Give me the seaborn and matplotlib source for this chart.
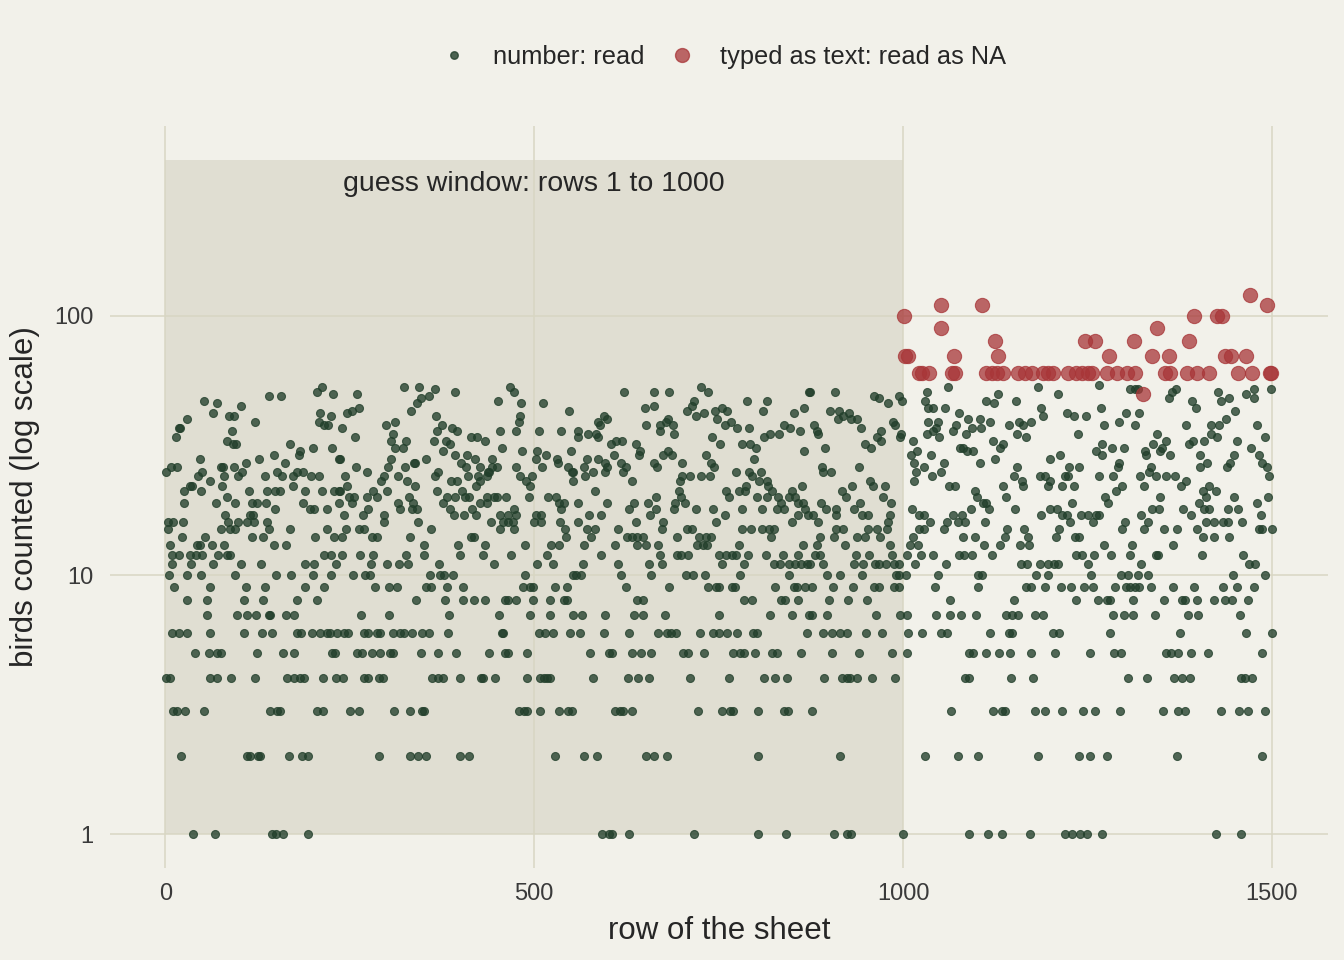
import matplotlib
matplotlib.use("Agg")
import matplotlib.pyplot as plt
import seaborn as sns
import pandas as pd
from matplotlib.patches import Rectangle
from matplotlib.lines import Line2D

# ---------------- data ----------------
# rows whose count is a small integer (1..8)
rows_count_1 = [38, 68, 145, 150, 160, 193, 592, 601, 605, 628, 717, 803, 841, 906, 924, 930, 1000,
                1089, 1115, 1134, 1172, 1219, 1229, 1240, 1249, 1269, 1424, 1458]
rows_count_2 = [21, 111, 115, 125, 129, 167, 185, 193, 289, 331, 343, 354, 400, 412, 528, 567, 585,
                652, 662, 680, 804, 915, 1030, 1075, 1102, 1183, 1238, 1253, 1276, 1371, 1487]
rows_count_3 = [11, 16, 27, 52, 142, 151, 156, 205, 214, 251, 263, 310, 332, 348, 351, 479, 486, 490,
                508, 533, 546, 551, 609, 616, 621, 633, 722, 755, 766, 770, 803, 838, 844, 877, 1065,
                1122, 1134, 1138, 1179, 1192, 1216, 1244, 1260, 1294, 1352, 1373, 1382, 1431, 1455,
                1468, 1491]
rows_count_4 = [1, 7, 60, 70, 89, 121, 165, 174, 183, 188, 214, 232, 241, 270, 275, 289, 295, 361, 370,
                377, 399, 428, 431, 447, 490, 508, 513, 517, 522, 580, 627, 641, 655, 711, 764, 811,
                827, 842, 893, 917, 924, 928, 938, 958, 989, 1084, 1089, 1146, 1176, 1305, 1330, 1367,
                1378, 1389, 1458, 1463, 1473]
rows_count_5 = [40, 59, 70, 75, 124, 159, 175, 226, 230, 260, 267, 280, 291, 304, 309, 346, 370, 394,
                439, 461, 465, 490, 576, 601, 605, 633, 645, 659, 702, 709, 730, 770, 779, 784, 799,
                822, 829, 862, 903, 940, 985, 1005, 1089, 1095, 1112, 1130, 1145, 1174, 1206, 1253,
                1286, 1295, 1357, 1363, 1373, 1390, 1413, 1487]
rows_count_6 = [9, 18, 29, 61, 106, 131, 145, 178, 184, 199, 210, 219, 223, 233, 242, 248, 270, 275,
                287, 291, 308, 318, 323, 334, 348, 358, 383, 456, 458, 506, 515, 525, 549, 562, 594,
                629, 668, 680, 686, 692, 725, 742, 750, 762, 775, 796, 802, 870, 892, 903, 914, 924,
                950, 972, 1006, 1025, 1052, 1059, 1118, 1143, 1147, 1203, 1211, 1280, 1375, 1465, 1500]
rows_count_7 = [57, 97, 111, 123, 140, 142, 163, 174, 265, 303, 385, 452, 495, 521, 553, 565, 596,
                635, 647, 677, 751, 819, 849, 873, 877, 897, 963, 996, 1005, 1045, 1064, 1079, 1099,
                1140, 1147, 1156, 1179, 1190, 1284, 1300, 1311, 1341, 1386, 1400, 1457]
rows_count_8 = [29, 56, 106, 133, 178, 205, 340, 379, 404, 418, 434, 461, 465, 476, 499, 522, 540,
                544, 639, 648, 784, 795, 835, 840, 858, 899, 925, 951, 1063, 1151, 1235, 1264, 1276,
                1281, 1312, 1353, 1378, 1382, 1399, 1422, 1436, 1446, 1467]

# (row, count) pairs for the larger counts, by stretch of the sheet
upper_rows_1_236 = [
    (212, 53), (206, 51), (227, 50), (52, 47), (70, 46), (103, 45), (141, 49), (157, 49),
    (65, 42), (86, 41), (93, 41), (30, 40), (18, 37), (20, 37), (14, 34), (122, 39), (90, 36),
    (84, 33), (92, 32), (96, 32), (210, 42), (224, 41), (208, 39), (215, 38), (221, 38), (169, 32),
    (182, 30), (181, 29), (200, 31), (226, 31), (235, 28), (47, 28), (1, 25), (8, 26), (16, 26),
    (50, 25), (60, 23), (33, 22), (36, 22), (25, 21), (48, 21), (45, 24), (26, 19), (75, 26),
    (78, 26), (93, 26), (79, 24), (99, 24), (104, 25), (110, 27), (127, 28), (147, 29), (162, 27),
    (77, 22), (83, 20), (69, 19), (95, 19), (113, 21), (135, 24), (151, 25), (158, 24), (173, 24),
    (178, 25), (187, 25), (197, 24), (208, 24), (173, 22), (138, 21), (149, 21), (155, 21),
    (117, 19), (124, 19), (136, 19), (190, 21), (212, 21), (228, 21), (235, 21), (187, 19),
    (196, 18), (201, 18), (219, 18), (236, 19), (149, 18), (81, 17), (115, 17), (119, 17),
    (85, 16), (99, 16), (111, 16), (120, 16), (138, 16), (3, 16), (11, 16), (24, 16), (3, 15),
    (75, 15), (88, 15), (95, 15), (140, 15), (169, 15), (219, 15), (23, 14), (54, 14), (117, 14),
    (133, 14), (203, 14), (229, 14), (6, 13), (43, 13), (47, 13), (63, 13), (79, 13), (148, 13),
    (164, 13), (9, 12), (18, 12), (33, 12), (41, 12), (50, 12), (72, 12), (83, 12), (88, 12),
    (215, 12), (224, 12), (9, 11), (35, 11), (64, 11), (103, 11), (130, 11), (190, 11), (202, 11),
    (232, 11), (5, 10), (30, 10), (48, 10), (95, 10), (150, 10), (170, 10), (200, 10), (225, 10),
    (12, 9), (60, 9), (110, 9), (135, 9), (190, 9), (215, 9)]

upper_rows_237_555 = [
    (260, 50), (323, 53), (344, 53), (365, 52), (392, 51), (467, 53), (473, 51), (451, 47),
    (482, 46), (512, 46), (547, 43), (246, 42), (253, 43), (263, 44), (333, 43), (341, 46),
    (347, 48), (357, 49), (367, 41), (481, 41), (479, 39), (239, 37), (299, 38), (312, 39),
    (375, 38), (368, 36), (388, 37), (396, 36), (453, 36), (476, 36), (507, 36), (537, 36),
    (257, 34), (309, 35), (306, 33), (326, 33), (312, 31), (322, 31), (364, 33), (381, 33),
    (386, 32), (415, 34), (422, 34), (434, 33), (457, 31), (483, 30), (504, 30), (503, 28),
    (516, 29), (550, 30), (376, 30), (393, 29), (409, 29), (420, 28), (443, 28), (237, 28),
    (306, 28), (353, 28), (338, 27), (401, 27), (407, 26), (426, 26), (449, 26), (443, 26),
    (439, 25), (476, 26), (531, 28), (532, 27), (511, 26), (546, 26), (553, 25), (259, 26),
    (273, 25), (302, 26), (325, 26), (337, 27), (244, 24), (296, 24), (316, 24), (293, 23),
    (327, 23), (339, 22), (369, 25), (366, 24), (387, 23), (396, 23), (410, 24), (424, 24),
    (426, 23), (421, 22), (436, 24), (438, 25), (481, 24), (489, 23), (497, 24), (495, 22),
    (551, 25), (552, 23), (246, 22), (237, 21), (249, 20), (256, 20), (273, 20), (281, 21),
    (287, 20), (300, 21), (330, 20), (368, 21), (382, 20), (392, 20), (402, 21), (406, 20),
    (412, 20), (436, 20), (446, 20), (449, 20), (462, 20), (493, 20), (519, 20), (530, 20),
    (534, 19), (541, 19), (253, 19), (315, 19), (336, 19), (376, 19), (386, 18), (427, 19),
    (436, 19), (537, 18), (318, 18), (334, 18), (341, 18), (275, 18), (416, 18), (472, 18),
    (242, 17), (268, 17), (296, 17), (391, 17), (405, 17), (421, 17), (454, 17), (464, 17),
    (475, 17), (502, 17), (509, 17), (297, 16), (342, 16), (441, 16), (458, 16), (464, 16),
    (471, 16), (500, 16), (509, 16), (535, 16), (245, 15), (262, 15), (269, 15), (360, 15),
    (454, 15), (472, 15), (542, 15), (239, 14), (280, 14), (287, 14), (331, 14), (415, 14),
    (419, 14), (543, 14), (350, 13), (397, 13), (433, 13), (487, 13), (523, 13), (534, 13),
    (239, 12), (264, 12), (282, 12), (326, 12), (351, 12), (400, 12), (430, 12), (469, 12),
    (517, 12), (279, 11), (300, 11), (317, 11), (329, 11), (371, 11), (445, 11), (504, 11),
    (526, 11), (255, 10), (271, 10), (278, 10), (359, 10), (373, 10), (378, 10), (390, 10),
    (488, 10), (552, 10), (284, 9), (303, 9), (314, 9), (354, 9), (360, 9), (382, 9), (403, 9),
    (485, 9), (495, 9), (498, 9), (528, 9), (544, 9)]

upper_rows_556_873 = [
    (622, 51), (663, 51), (683, 51), (726, 53), (736, 51), (789, 47), (815, 47), (872, 51),
    (650, 44), (663, 45), (707, 43), (714, 45), (717, 47), (719, 41), (730, 42), (745, 43),
    (754, 44), (762, 43), (748, 40), (810, 43), (852, 42), (866, 44), (586, 39), (595, 41),
    (599, 40), (589, 38), (651, 38), (671, 38), (678, 39), (682, 40), (688, 38), (690, 35),
    (671, 36), (759, 38), (767, 39), (775, 37), (791, 37), (839, 38), (847, 37), (860, 36),
    (560, 36), (560, 34), (573, 35), (584, 35), (587, 34), (604, 32), (611, 33), (619, 33),
    (638, 32), (644, 30), (642, 29), (741, 34), (752, 32), (782, 32), (793, 32), (800, 31),
    (812, 34), (820, 35), (832, 35), (866, 30), (571, 28), (587, 28), (568, 26), (569, 24),
    (580, 25), (608, 29), (596, 27), (599, 26), (618, 27), (624, 26), (621, 25), (596, 25),
    (632, 23), (662, 27), (667, 26), (674, 29), (681, 30), (687, 29), (700, 27), (733, 29),
    (739, 27), (744, 26), (700, 24), (711, 24), (697, 23), (726, 24), (738, 24), (773, 25),
    (791, 25), (795, 24), (798, 28), (807, 25), (805, 23), (815, 23), (817, 22), (863, 22),
    (787, 22), (786, 21), (777, 21), (760, 21), (764, 20), (823, 21), (831, 20), (850, 21),
    (854, 20), (845, 20), (815, 20), (802, 20), (559, 19), (582, 21), (599, 19), (665, 20),
    (635, 19), (654, 19), (628, 18), (696, 21), (699, 20), (691, 19), (690, 18), (704, 19),
    (665, 18), (657, 17), (720, 18), (742, 18), (781, 18), (809, 18), (829, 18), (839, 18),
    (834, 19), (857, 19), (865, 19), (867, 18), (871, 17), (758, 17), (574, 17), (590, 17),
    (559, 16), (638, 16), (675, 16), (746, 16), (849, 16), (858, 17), (571, 15), (583, 15),
    (577, 14), (613, 15), (673, 15), (707, 15), (714, 15), (782, 15), (794, 15), (809, 15),
    (818, 15), (825, 15), (821, 14), (626, 14), (632, 14), (639, 14), (648, 14), (694, 14),
    (724, 14), (733, 14), (739, 14), (568, 13), (610, 13), (640, 13), (652, 13), (668, 13),
    (721, 13), (729, 13), (734, 13), (777, 13), (865, 13), (591, 12), (670, 12), (693, 12),
    (699, 12), (709, 12), (750, 12), (760, 12), (768, 12), (774, 12), (790, 12), (814, 12),
    (837, 12), (857, 12), (566, 11), (614, 11), (656, 11), (673, 11), (754, 11), (785, 11),
    (825, 11), (833, 11), (846, 11), (854, 11), (862, 11), (870, 11), (556, 10), (564, 10),
    (617, 10), (659, 10), (706, 10), (715, 10), (732, 10), (779, 10), (846, 10), (625, 9),
    (683, 9), (736, 9), (747, 9), (750, 9), (768, 9), (772, 9), (827, 9), (852, 9), (856, 9),
    (867, 9)]

upper_rows_874_1191 = [
    (908, 51), (874, 51), (961, 49), (967, 48), (979, 46), (994, 49), (999, 47), (901, 43),
    (913, 43), (919, 41), (912, 40), (927, 42), (929, 40), (937, 40), (943, 37), (879, 38),
    (884, 36), (885, 35), (894, 31), (986, 39), (989, 38), (970, 36), (964, 34), (970, 33),
    (996, 34), (997, 35), (949, 32), (957, 31), (1032, 51), (1030, 47), (1034, 44), (1041, 44),
    (1061, 53), (1057, 44), (1076, 42), (1088, 40), (1104, 40), (1105, 37), (1094, 37),
    (1113, 47), (1123, 46), (1128, 50), (1153, 47), (1118, 39), (1144, 38), (1157, 39),
    (1162, 38), (1174, 39), (1183, 53), (1187, 44), (1189, 41), (1034, 39), (1047, 39),
    (1045, 37), (1041, 36), (1032, 35), (1049, 34), (1072, 38), (1068, 36), (1085, 35),
    (1154, 35), (1166, 34), (1013, 33), (1019, 30), (1011, 29), (1038, 29), (1015, 27),
    (1029, 26), (1018, 25), (1015, 23), (1055, 27), (1051, 25), (1039, 24), (1077, 31),
    (1081, 31), (1087, 30), (1095, 30), (1122, 33), (1132, 31), (1136, 32), (1125, 28),
    (1104, 27), (1154, 26), (1150, 24), (1161, 23), (1162, 22), (1185, 24), (1135, 22),
    (1139, 20), (890, 26), (891, 25), (902, 25), (940, 26), (955, 23), (959, 22), (975, 22),
    (931, 22), (917, 21), (922, 20), (973, 20), (984, 19), (889, 19), (896, 18), (909, 18),
    (909, 17), (942, 19), (934, 18), (944, 17), (952, 17), (878, 17), (885, 16), (982, 17),
    (980, 16), (978, 15), (1062, 22), (1071, 22), (1097, 21), (1100, 20), (1109, 19),
    (1112, 19), (1117, 18), (1092, 18), (1152, 18), (1012, 18), (1021, 17), (1028, 17),
    (1037, 16), (1067, 17), (1080, 17), (1060, 16), (1074, 16), (1084, 16), (1056, 15),
    (1111, 16), (1187, 17), (909, 15), (919, 15), (953, 15), (964, 15), (1021, 15), (1028, 15),
    (1141, 15), (1164, 15), (888, 14), (906, 14), (938, 14), (949, 14), (969, 14), (1013, 14),
    (1081, 14), (1098, 14), (1138, 14), (1169, 14), (883, 13), (921, 13), (982, 13),
    (1009, 13), (1020, 13), (1110, 13), (1132, 13), (1159, 13), (1171, 13), (881, 12),
    (887, 12), (936, 12), (954, 12), (985, 12), (1005, 12), (1024, 12), (1040, 12), (1076, 12),
    (1082, 12), (1093, 12), (1121, 12), (874, 11), (892, 11), (934, 11), (946, 11), (962, 11),
    (968, 11), (977, 11), (988, 11), (994, 11), (1016, 11), (1058, 11), (1160, 11), (1168, 11),
    (1186, 11), (897, 10), (915, 10), (945, 10), (991, 10), (995, 10), (1004, 10), (1048, 10),
    (1102, 10), (1107, 10), (1180, 10), (876, 9), (905, 9), (932, 9), (961, 9), (967, 9),
    (988, 9), (995, 9), (1043, 9), (1101, 9), (1166, 9), (1173, 9)]

upper_rows_1192_1500 = [
    (1266, 54), (1210, 50), (1308, 52), (1314, 52), (1319, 52), (1360, 48), (1365, 51),
    (1370, 52), (1391, 47), (1397, 44), (1427, 51), (1431, 47), (1442, 48), (1465, 50),
    (1475, 48), (1476, 52), (1499, 52), (1222, 42), (1231, 41), (1248, 41), (1268, 44),
    (1302, 42), (1320, 42), (1292, 39), (1315, 38), (1273, 38), (1237, 35), (1384, 38),
    (1417, 38), (1428, 38), (1450, 43), (1438, 40), (1480, 38), (1344, 35), (1357, 33),
    (1339, 32), (1351, 31), (1348, 30), (1362, 29), (1328, 30), (1329, 29), (1270, 32),
    (1262, 30), (1269, 29), (1283, 31), (1299, 31), (1387, 32), (1393, 33), (1408, 33),
    (1417, 35), (1426, 34), (1452, 33), (1491, 34), (1472, 31), (1482, 29), (1486, 27),
    (1493, 26), (1496, 24), (1449, 29), (1443, 27), (1439, 26), (1402, 29), (1412, 27),
    (1403, 26), (1199, 28), (1213, 29), (1192, 24), (1199, 23), (1196, 22), (1225, 26),
    (1239, 26), (1220, 24), (1224, 24), (1215, 22), (1232, 22), (1265, 24), (1285, 24),
    (1291, 26), (1293, 27), (1297, 22), (1288, 21), (1321, 24), (1326, 22), (1336, 26),
    (1333, 25), (1343, 24), (1356, 24), (1369, 24), (1377, 22), (1383, 23), (1407, 21),
    (1414, 22), (1424, 21), (1411, 20), (1348, 20), (1449, 20), (1494, 20), (1274, 20),
    (1278, 19), (1229, 19), (1199, 18), (1208, 18), (1215, 17), (1222, 17), (1226, 16),
    (1241, 17), (1251, 17), (1262, 17), (1266, 17), (1258, 16), (1337, 18), (1347, 18),
    (1323, 17), (1332, 16), (1301, 16), (1379, 18), (1390, 17), (1401, 19), (1408, 18),
    (1414, 18), (1440, 18), (1454, 18), (1480, 19), (1485, 17), (1410, 16), (1421, 16),
    (1434, 16), (1440, 16), (1460, 16), (1482, 15), (1486, 15), (1500, 15), (1211, 15),
    (1207, 14), (1233, 14), (1239, 14), (1297, 15), (1327, 15), (1354, 15), (1371, 15),
    (1398, 15), (1406, 14), (1421, 14), (1442, 14), (1272, 13), (1282, 12), (1310, 13),
    (1307, 12), (1366, 13), (1235, 12), (1242, 12), (1259, 12), (1343, 12), (1346, 12),
    (1405, 12), (1461, 12), (1197, 11), (1205, 11), (1210, 11), (1250, 11), (1323, 11),
    (1469, 11), (1477, 11), (1196, 10), (1255, 10), (1295, 10), (1305, 10), (1318, 10),
    (1332, 10), (1447, 10), (1490, 10), (1192, 9), (1214, 9), (1228, 9), (1245, 9), (1257, 9),
    (1287, 9), (1302, 9), (1308, 9), (1314, 9), (1320, 9), (1336, 9), (1366, 9), (1394, 9),
    (1434, 9), (1452, 9), (1476, 9)]

# rows where the count was typed as text (read as NA): row and the typed value
text_rows = [1001, 1052, 1107, 1052, 1125, 1003, 1007, 1069, 1128, 1022, 1025, 1035, 1066, 1070,
             1113, 1120, 1127, 1135, 1156, 1165, 1175, 1190, 1197, 1203, 1224, 1234, 1243, 1251,
             1247, 1470, 1493, 1394, 1425, 1432, 1344, 1260, 1313, 1387, 1279, 1338, 1360, 1436,
             1445, 1465, 1256, 1276, 1290, 1303, 1314, 1355, 1362, 1385, 1398, 1415, 1454, 1473,
             1497, 1499, 1325]
text_values = [100, 110, 110, 90, 80, 70, 70, 70, 70, 60, 60, 60, 60, 60,
               60, 60, 60, 60, 60, 60, 60, 60, 60, 60, 60, 60, 60, 60,
               80, 120, 110, 100, 100, 100, 90, 80, 80, 80, 70, 70, 70, 70,
               70, 70, 60, 60, 60, 60, 60, 60, 60, 60, 60, 60, 60, 60,
               60, 60, 50]

guess_window = (1, 1000)
legend_labels = ["number: read", "typed as text: read as NA"]
x_ticks = [0, 500, 1000, 1500]
y_ticks = [1, 10, 100]

# ---------------- build tables ----------------
green_pairs = []
for cnt, lst in [(1, rows_count_1), (2, rows_count_2), (3, rows_count_3), (4, rows_count_4),
                 (5, rows_count_5), (6, rows_count_6), (7, rows_count_7), (8, rows_count_8)]:
    green_pairs += [(r, cnt) for r in lst]
for seg in [upper_rows_1_236, upper_rows_237_555, upper_rows_556_873,
            upper_rows_874_1191, upper_rows_1192_1500]:
    green_pairs += seg
green = pd.DataFrame(green_pairs, columns=["row", "birds"]).sort_values("row")
red = pd.DataFrame({"row": text_rows, "birds": text_values})

# ---------------- style ----------------
BG = "#F2F1EA"
RECT = "#E0DED2"
GRID = "#D8D6C3"
GREEN = "#223F2B"
RED = "#A83638"
TXT = "#262626"

sns.set_theme(style="white")
plt.rcParams["font.family"] = ["Liberation Sans", "DejaVu Sans"]

fig = plt.figure(figsize=(13.44, 9.6), dpi=100, facecolor=BG)
ax = fig.add_axes([110 / 1344, 1 - 868 / 960, (1328 - 110) / 1344, (868 - 126) / 960])
ax.set_facecolor(BG)

ax.set_yscale("log")
ax.set_xlim(-74.95, 1575.95)
ax.set_ylim(10 ** -0.1301, 10 ** 2.7321)

ax.add_patch(Rectangle((0, guess_window[0]), guess_window[1], 400 - guess_window[0],
                       facecolor=RECT, edgecolor="none", zorder=0.3))

ax.set_axisbelow(True)
ax.grid(True, which="major", color=GRID, linewidth=1.1)
ax.grid(False, which="minor")
for s in ax.spines.values():
    s.set_visible(False)

sns.scatterplot(data=green, x="row", y="birds", ax=ax, color=GREEN, alpha=0.78,
                s=33, edgecolor=GREEN, linewidth=0.8, zorder=3, legend=False)
sns.scatterplot(data=red, x="row", y="birds", ax=ax, color=RED, alpha=0.75,
                s=105, edgecolor=RED, linewidth=0.8, zorder=4, legend=False)

ax.text(500, 322, "guess window: rows 1 to 1000", ha="center", va="center",
        fontsize=20.5, color=TXT)

ax.set_xticks(x_ticks)
ax.set_xticklabels([str(t) for t in x_ticks])
ax.set_yticks(y_ticks)
ax.set_yticklabels([str(t) for t in y_ticks])
ax.yaxis.set_minor_locator(matplotlib.ticker.NullLocator())
ax.tick_params(axis="both", length=0, labelsize=17, colors="#3a3a3a")
ax.tick_params(axis="x", pad=11)
ax.tick_params(axis="y", pad=12)

ax.set_xlabel("row of the sheet", fontsize=22.5, color=TXT, labelpad=8)
ax.set_ylabel("birds counted (log scale)", fontsize=22.5, color=TXT, labelpad=10)

handles = [
    Line2D([0], [0], marker="o", linestyle="none", markersize=5.4, color=GREEN,
           markeredgecolor=GREEN, alpha=0.8),
    Line2D([0], [0], marker="o", linestyle="none", markersize=10, color=RED,
           markeredgecolor=RED, alpha=0.75),
]
fig.legend(handles, legend_labels, loc="center", bbox_to_anchor=(724 / 1344, 1 - 57 / 960),
           ncol=2, frameon=False, fontsize=18.3, handlelength=1.0, handletextpad=1.0,
           columnspacing=1.0, labelcolor=TXT)

fig.savefig("out.png", dpi=100, facecolor=BG)
